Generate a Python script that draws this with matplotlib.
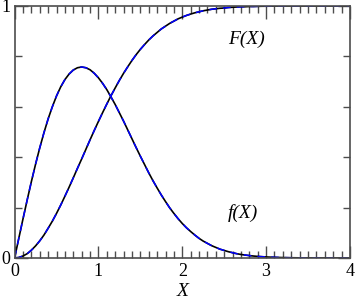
import matplotlib
matplotlib.use("Agg")
import matplotlib.pyplot as plt
from matplotlib.ticker import MultipleLocator

# values: step 0.05 up to x=3, then 0.1
x = [i * 0.05 for i in range(61)] + [3.1, 3.2, 3.3, 3.4, 3.5, 3.6, 3.7, 3.8, 3.9, 4.0]
pdf = [0.0, 0.078, 0.155, 0.230, 0.303, 0.372, 0.437, 0.497, 0.552, 0.600,
       0.643, 0.679, 0.708, 0.730, 0.746, 0.755, 0.758, 0.755, 0.747, 0.733,
       0.715, 0.693, 0.668, 0.639, 0.609, 0.576, 0.543, 0.508, 0.473, 0.438,
       0.404, 0.371, 0.338, 0.307, 0.278, 0.250, 0.224, 0.199, 0.177, 0.156,
       0.137, 0.120, 0.105, 0.091, 0.078, 0.067, 0.058, 0.049, 0.042, 0.035,
       0.030, 0.025, 0.021, 0.017, 0.014, 0.0117, 0.0096, 0.0078, 0.0063, 0.0052,
       0.0041,
       0.0027, 0.0017, 0.001, 0.0006, 0.0004, 0.0002, 0.0001, 0.0, 0.0, 0.0]
cdf = [0.0, 0.002, 0.008, 0.017, 0.031, 0.048, 0.068, 0.091, 0.118, 0.146,
       0.177, 0.210, 0.245, 0.281, 0.318, 0.356, 0.393, 0.431, 0.469, 0.506,
       0.542, 0.577, 0.611, 0.644, 0.675, 0.705, 0.733, 0.759, 0.784, 0.807,
       0.828, 0.847, 0.865, 0.881, 0.895, 0.909, 0.920, 0.931, 0.940, 0.949,
       0.956, 0.9625, 0.968, 0.973, 0.977, 0.981, 0.984, 0.987, 0.989, 0.991,
       0.992, 0.994, 0.995, 0.996, 0.997, 0.997, 0.998, 0.998, 0.9986, 0.999,
       0.9991,
       0.9995, 0.9997, 0.9998, 0.9999, 1.0, 1.0, 1.0, 1.0, 1.0, 1.0]

plt.rcParams['font.family'] = ['Liberation Serif', 'DejaVu Serif']

fig = plt.figure(figsize=(3.56, 3.0), dpi=100)
ax = fig.add_axes([0.041, 0.14, 0.942, 0.84])

# solid black + dashed blue overlay
ax.plot(x, pdf, color='black', lw=1.2)
ax.plot(x, cdf, color='black', lw=1.2)
ax.plot(x, pdf, color='#0000ff', lw=1.1, ls=(0, (5, 4)))
ax.plot(x, cdf, color='#0000ff', lw=1.1, ls=(0, (5, 4)))

ax.set_xlim(0, 4)
ax.set_ylim(0, 1)
ax.xaxis.set_major_locator(MultipleLocator(1))
ax.xaxis.set_minor_locator(MultipleLocator(0.1))
ax.yaxis.set_major_locator(MultipleLocator(1))
ax.yaxis.set_minor_locator(MultipleLocator(0.2))

gray = '0.3'
for s in ax.spines.values():
    s.set_color(gray)
    s.set_linewidth(1.2)
ax.tick_params(which='both', direction='in', top=True, right=True, color=gray,
               labelsize=13)
ax.tick_params(which='major', length=9, width=1.0)
ax.tick_params(which='minor', length=5, width=1.0)
ax.tick_params(axis='x', pad=3.5)
ax.tick_params(axis='y', pad=3)

ax.text(2.76, 0.869, 'F(X)', style='italic', fontsize=14, ha='center', va='center')
ax.text(2.72, 0.177, 'f(X)', style='italic', fontsize=14, ha='center', va='center')
ax.set_xlabel('X', style='italic', fontsize=14, labelpad=2)

fig.savefig('out.png', dpi=100)
